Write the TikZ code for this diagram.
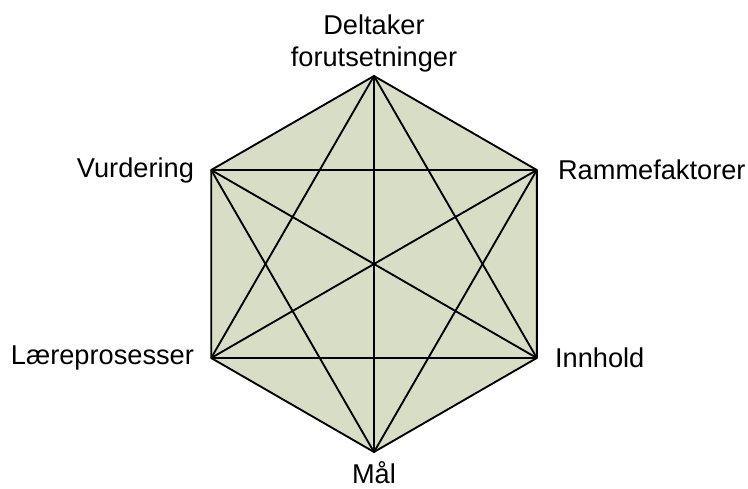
\documentclass[tikz,border=0pt]{standalone}
\usepackage{fontspec}
\setmainfont{Liberation Sans}
\usetikzlibrary{positioning}
\definecolor{hexFill}{HTML}{D8DDC5}
\tikzset{
  edgeK/.style={black, line width=1.4pt, line join=round},
  lbl/.style={font=\fontsize{20.4}{24}\selectfont, align=center, inner sep=0pt},
}
\begin{document}
\begin{tikzpicture}[node distance=12.75pt]
    \useasboundingbox (-280.5pt,-168pt) rectangle (280.5pt,198pt);
    % corners of the hexagon
    \coordinate (del) at (90:141pt);
    \coordinate (ram) at (30:141pt);
    \coordinate (inn) at (-30:141pt);
    \coordinate (mal) at (-90:141pt);
    \coordinate (lar) at (-150:141pt);
    \coordinate (vur) at (150:141pt);
    \fill[hexFill] (del) -- (ram) -- (inn) -- (mal) -- (lar) -- (vur) -- cycle;
    % outline
    \draw[edgeK] (del) -- (ram) -- (inn) -- (mal) -- (lar) -- (vur) -- cycle;
    % diagonals
    \draw[edgeK] (del) -- (mal); \draw[edgeK] (vur) -- (inn);
    \draw[edgeK] (ram) -- (lar); \draw[edgeK] (vur) -- (ram);
    \draw[edgeK] (lar) -- (inn); \draw[edgeK] (del) -- (lar);
    \draw[edgeK] (del) -- (inn); \draw[edgeK] (mal) -- (vur);
    \draw[edgeK] (mal) -- (ram);
    % labels
    \node[lbl, above=3pt of del] (tDel) {Deltaker\\forutsetninger};
    \node[lbl, right=15.75pt of ram] (tRam) {Rammefaktorer};
    \node[lbl, right=13.5pt of inn] (tInn) {Innhold};
    \node[lbl, below=7pt of mal] (tMal) {Mål};
    \node[lbl, left=of lar] (tLar) {Læreprosesser};
    \node[lbl, left=of vur] (tVur) {Vurdering};
  \end{tikzpicture}
\end{document}
